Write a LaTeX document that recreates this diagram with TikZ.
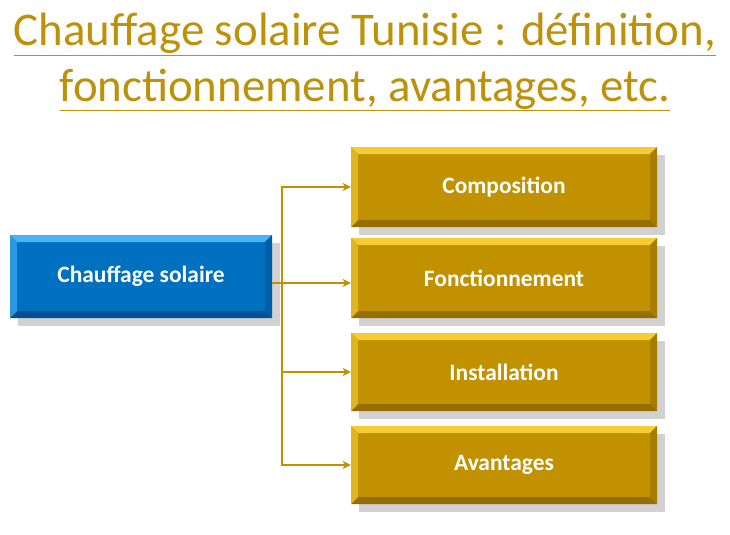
\documentclass[tikz,border=0pt]{standalone}
\usepackage{fontspec}
\setmainfont{Carlito}
\usetikzlibrary{arrows.meta}
\definecolor{gold}{RGB}{193,145,0}
\definecolor{goldlight}{RGB}{245,205,50}
\definecolor{golddark}{RGB}{150,110,0}
\definecolor{titlegold}{RGB}{190,145,10}
\definecolor{blue}{RGB}{0,112,192}
\definecolor{bluelight}{RGB}{70,180,245}
\definecolor{bluedark}{RGB}{0,80,150}
\newcommand{\bevelbox}[7]{%
  % #1 name, #2 left, #3 top, #4 width, #5 height, #6 colour, #7 text
  \fill[black!30, opacity=.6] (#2+8,#3+8) rectangle (#2+#4+8,#3+#5+8);
  \fill[#6] (#2,#3) rectangle (#2+#4,#3+#5);
  \fill[#6light] (#2,#3) -- (#2+#4,#3) -- (#2+#4-7,#3+7) -- (#2+7,#3+7) -- cycle;
  \fill[#6dark] (#2,#3+#5) -- (#2+#4,#3+#5) -- (#2+#4-7,#3+#5-7) -- (#2+7,#3+#5-7) -- cycle;
  \fill[#6dark!60!#6] (#2+#4,#3) -- (#2+#4,#3+#5) -- (#2+#4-7,#3+#5-7) -- (#2+#4-7,#3+7) -- cycle;
  \fill[#6light!60!#6] (#2,#3) -- (#2,#3+#5) -- (#2+7,#3+#5-7) -- (#2+7,#3+7) -- cycle;
  \node[boxtext, minimum width=#4*0.03cm, minimum height=#5*0.03cm] (#1) at (#2+#4/2,#3+#5/2) {#7};}
\begin{document}
\begin{tikzpicture}[x=0.03cm, y=-0.03cm,
  boxtext/.style={font=\bfseries\fontsize{20}{24}\selectfont, text=white, inner sep=0pt},
  title/.style={font=\fontsize{40}{48}\selectfont, text=titlegold},
  link/.style={draw=gold, line width=1.5pt, -{Stealth[length=7pt,width=7pt]}}
]
\useasboundingbox (0,0) rectangle (730,535);
%Title
\node[title] (t1) at (365,34) {\underline{Chauffage solaire Tunisie : définition,}};
\node[title] (t2) at (365,90) {\underline{fonctionnement, avantages, etc.}};
%Boxes
\bevelbox{root}{10}{235}{262}{83}{blue}{Chauffage solaire}
\bevelbox{comp}{351}{147}{306}{80}{gold}{Composition}
\bevelbox{fonc}{351}{238}{306}{80}{gold}{Fonctionnement}
\bevelbox{inst}{351}{333}{306}{78}{gold}{Installation}
\bevelbox{avan}{351}{426}{306}{78}{gold}{Avantages}
%Lines
\coordinate (split) at (282,283);
\draw[draw=gold, line width=1.5pt] (root.east |- split) -- (split);
\draw[link] (split) |- (comp.west);
\draw[link] (split) -- (fonc.west |- split);
\draw[link] (split) |- (inst.west);
\draw[link] (split) |- (avan.west);
\end{tikzpicture}
\end{document}
